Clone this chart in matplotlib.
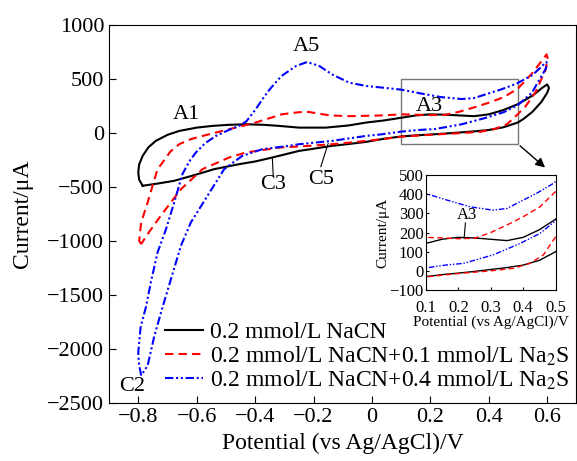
import numpy as np
import matplotlib
matplotlib.use("Agg")
import matplotlib.pyplot as plt
from matplotlib.patches import Rectangle

plt.rcParams['font.family'] = ['Liberation Serif', 'DejaVu Serif']
plt.rcParams['mathtext.fontset'] = 'stix'

# 1) CV loops: potential (V) and current (uA)
E_nacn = [-0.785, -0.797, -0.800, -0.797, -0.785, -0.765, -0.740, -0.700, -0.660, -0.600,
          -0.546, -0.490, -0.432, -0.370, -0.318, -0.250, -0.158, -0.080, -0.020, 0.040,
          0.092, 0.150, 0.200, 0.250, 0.300, 0.350, 0.400, 0.450, 0.500, 0.550,
          0.585, 0.600, 0.606, 0.600, 0.580, 0.550, 0.520, 0.500, 0.450, 0.400,
          0.350, 0.300, 0.250, 0.200, 0.160, 0.100, 0.040, -0.020, -0.080, -0.137,
          -0.215, -0.250, -0.341, -0.400, -0.455, -0.540, -0.610, -0.677, -0.730, -0.785]
I_nacn = [-487, -430, -364, -290, -210, -130, -71, -15, 21, 52,
          68, 78, 83, 78, 68, 52, 52, 72, 99, 118,
          140, 165, 175, 172, 165, 158, 175, 215, 270, 350,
          425, 452, 420, 375, 290, 200, 135, 100, 55, 30,
          17, 7, -3, -12, -18, -30, -52, -80, -100, -117,
          -150, -164, -225, -262, -287, -333, -390, -441, -465, -487]

E_s01 = [-0.790, -0.797, -0.790, -0.768, -0.734, -0.717, -0.690, -0.660, -0.620, -0.580,
         -0.489, -0.398, -0.350, -0.307, -0.250, -0.215, -0.180, -0.140, -0.080, 0.034,
         0.100, 0.150, 0.200, 0.250, 0.300, 0.360, 0.400, 0.452, 0.500, 0.550,
         0.598, 0.601, 0.595, 0.560, 0.526, 0.500, 0.462, 0.420, 0.370, 0.300,
         0.200, 0.100, 0.034, -0.020, -0.080, -0.137, -0.215, -0.318, -0.432, -0.489,
         -0.580, -0.654, -0.723, -0.768, -0.790]
I_s01 = [-1028, -997, -827, -642, -333, -272, -170, -102, -55, -25,
         37, 99, 140, 176, 195, 197, 180, 165, 158, 165,
         175, 172, 168, 170, 200, 248, 283, 335, 415, 560,
         731, 700, 593, 380, 250, 178, 83, 39, 13, 0,
         -14, -32, -55, -71, -88, -102, -117, -133, -179, -225,
         -333, -519, -765, -935, -1028]

E_s04 = [-0.790, -0.797, -0.800, -0.792, -0.774, -0.757, -0.734, -0.705, -0.677, -0.649,
         -0.625, -0.603, -0.570, -0.534, -0.490, -0.455, -0.430, -0.398, -0.375, -0.350,
         -0.310, -0.260, -0.222, -0.180, -0.137, -0.078, -0.020, 0.035, 0.100, 0.165,
         0.236, 0.307, 0.350, 0.390, 0.440, 0.493, 0.550, 0.597, 0.600, 0.594,
         0.548, 0.500, 0.452, 0.390, 0.307, 0.216, 0.160, 0.100, 0.034, -0.020,
         -0.137, -0.250, -0.284, -0.375, -0.444, -0.506, -0.563, -0.620, -0.654, -0.688,
         -0.717, -0.745, -0.768, -0.790]
I_s04 = [-2245, -2150, -2030, -1800, -1614, -1383, -1105, -889, -642, -380,
         -260, -179, -90, -25, 30, 68, 110, 222, 315, 407,
         530, 623, 660, 623, 546, 469, 438, 423, 404, 370,
         335, 317, 326, 361, 404, 457, 540, 660, 640, 593,
         377, 262, 196, 143, 83, 39, 30, 15, -10, -25,
         -71, -102, -117, -148, -210, -333, -580, -827, -1043, -1352,
         -1614, -1880, -2154, -2245]

labels = ['0.2 mmol/L NaCN',
          '0.2 mmol/L NaCN+0.1 mmol/L Na$_2$S',
          '0.2 mmol/L NaCN+0.4 mmol/L Na$_2$S']

series = [(E_nacn, I_nacn, 'black', '-'),
          (E_s01, I_s01, 'red', (0, (4, 2.5))),
          (E_s04, I_s04, 'blue', (0, (4, 1.3, 1, 1.3, 1, 1.3)))]

# 2) Main plot
fig = plt.figure(figsize=(5.77, 4.61), dpi=100)
ax = fig.add_axes([0.189, 0.126, 0.81, 0.819])
for (E, I, c, ls), lab in zip(series, labels):
    ax.plot(E, I, color=c, ls=ls, lw=1.5, label=lab)

ax.set_xlim(-0.9, 0.7)
ax.set_ylim(-2500, 1000)
ax.set_xticks([-0.8, -0.6, -0.4, -0.2, 0, 0.2, 0.4, 0.6])
ax.set_xticklabels(['\u22120.8', '\u22120.6', '\u22120.4', '\u22120.2', '0', '0.2', '0.4', '0.6'])
ax.set_yticks(np.arange(-2500, 1001, 500))
ax.tick_params(direction='in', length=5, labelsize=16, top=False, right=False)
ax.set_xlabel('Potential (vs Ag/AgCl)/V', fontsize=17, labelpad=4)
ax.set_ylabel('Current/\u03bcA', fontsize=17, labelpad=10)

ax.legend(loc='lower left', bbox_to_anchor=(0.085, -0.015), frameon=False,
          fontsize=17, handlelength=1.6, handletextpad=0.3, labelspacing=0.05,
          borderpad=0.2)

# peak labels
ax.text(-0.636, 176, 'A1', fontsize=16, ha='center', va='center')
ax.text(-0.226, 805, 'A5', fontsize=16, ha='center', va='center')
ax.text(0.195, 250, 'A3', fontsize=16, ha='center', va='center')
ax.text(-0.82, -2352, 'C2', fontsize=16, ha='center', va='center')
ax.text(-0.34, -472, 'C3', fontsize=16, ha='center', va='center')
ax.plot([-0.341, -0.338], [-225, -400], color='black', lw=0.8)
ax.text(-0.174, -426, 'C5', fontsize=16, ha='center', va='center')
ax.plot([-0.15, -0.175], [-95, -310], color='black', lw=0.8)

# zoom box + arrow
ax.add_patch(Rectangle((0.1, -100), 0.4, 600, fill=False, ec='#777777', lw=1.0))
ax.annotate('', xy=(0.6, -335), xytext=(0.5, -100),
            arrowprops=dict(arrowstyle='-|>', color='black', lw=1.0, mutation_scale=14))

# 3) Inset
ins = fig.add_axes([0.738, 0.371, 0.225, 0.249])
for E, I, c, ls in series:
    ins.plot(E, I, color=c, ls=ls, lw=1.0)
ins.set_xlim(0.1, 0.5)
ins.set_ylim(-100, 500)
ins.set_xticks([0.1, 0.2, 0.3, 0.4, 0.5])
ins.set_yticks(np.arange(-100, 501, 100))
ins.set_yticklabels(['\u2212100', '0', '100', '200', '300', '400', '500'])
ins.tick_params(direction='in', length=2, labelsize=12, pad=1.5)
ins.tick_params(axis='x', pad=7)
ins.set_xlabel('Potential (vs Ag/AgCl)/V', fontsize=11, labelpad=0)
ins.set_ylabel('Current/\u03bcA', fontsize=11, labelpad=0)
ins.text(0.227, 291, 'A3', fontsize=12, ha='center', va='center')
ins.plot([0.222, 0.218], [250, 170], color='black', lw=0.8)

fig.savefig('out.png', dpi=100)
